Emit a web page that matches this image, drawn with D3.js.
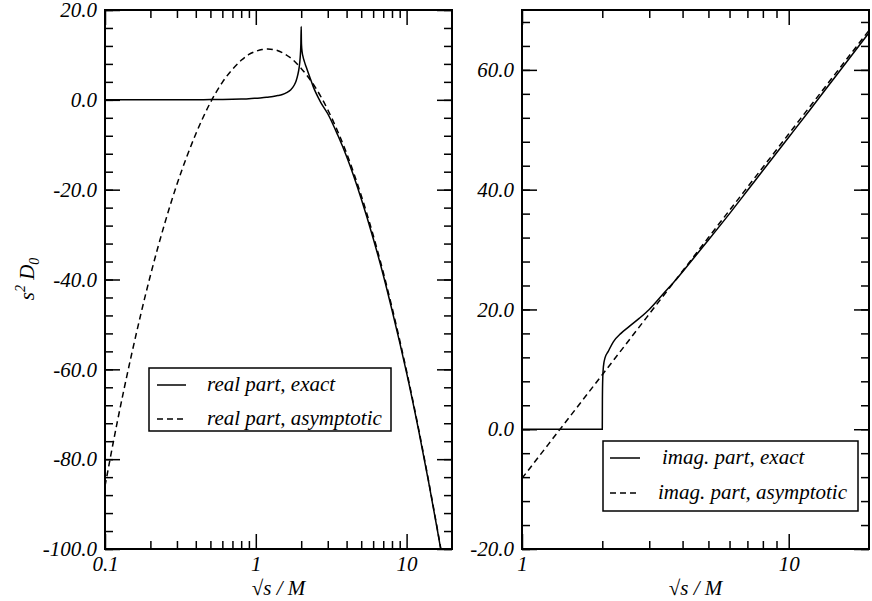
<!DOCTYPE html>
<html>
<head>
<meta charset="utf-8">
<script src="https://cdn.jsdelivr.net/npm/d3@7"></script>
<style>
  body { margin: 0; background: #fff; }
</style>
</head>
<body>
<div id="chart"></div>
<script>
// left panel: real part
const realExactX = [0.1, 0.2, 0.3, 0.4, 0.5, 0.6, 0.7, 0.8, 0.9, 1.0, 1.1, 1.2, 1.3, 1.4, 1.5, 1.6, 1.7, 1.8, 1.85, 1.9, 1.94, 1.97, 1.99, 2.0,
  2.005, 2.01, 2.03, 2.06, 2.1, 2.16, 2.23, 2.3, 2.4, 2.5, 2.7, 3.0, 3.5, 4.0, 5.0, 6.0, 7.0, 8.0, 9.0, 10, 12, 14, 16, 18];
const realExactY = [0, 0, 0, 0.02, 0.05, 0.08, 0.12, 0.18, 0.25, 0.35, 0.45, 0.6, 0.75, 0.95, 1.2, 1.6, 2.2, 3.3, 4.2, 5.6, 7.3, 9.5, 12.5, 16.3,
  13.5, 12.2, 10.6, 9.5, 8.5, 7.3, 6.0, 4.7, 3.0, 1.6, -0.6, -3.1, -7.9, -12.6, -22.0, -30.8, -39.0, -46.8, -54.0, -60.8, -73.5, -85.1, -95.8, -105.6];
const realAsymX = [0.1, 0.12, 0.15, 0.2, 0.25, 0.3, 0.35, 0.4, 0.5, 0.6, 0.7, 0.8, 0.9, 1.0, 1.1, 1.2, 1.35, 1.5, 1.75, 2.0,
  2.5, 3.0, 3.5, 4.0, 5.0, 6.0, 7.0, 8.0, 9.0, 10, 12, 14, 16, 18];
const realAsymY = [-86.0, -72.1, -56.7, -39.1, -27.3, -18.8, -12.5, -7.6, -0.6, 3.9, 6.8, 8.8, 10.1, 10.8, 11.2, 11.3, 11.1, 10.5, 9.0, 7.0,
  2.6, -2.2, -7.1, -11.9, -21.3, -30.1, -38.4, -46.2, -53.5, -60.4, -73.2, -84.9, -95.6, -105.4];

// right panel: imaginary part
const imagExactX = [1.0, 1.5, 1.9, 2.0, 2.002, 2.008, 2.02, 2.05, 2.1, 2.2, 2.35, 2.5, 2.75, 3.0, 3.4, 3.8, 4.5, 5, 6, 7, 8, 10, 12, 15, 20];
const imagExactY = [0, 0, 0, 0, 5.0, 8.5, 10.5, 12.0, 12.9, 14.6, 16.0, 17.0, 18.5, 20.0, 22.7, 25.1, 29.1, 31.6, 36.0, 39.85, 43.2, 48.75, 53.3, 58.95, 66.2];
const imagAsymX = [1, 2, 5, 10, 20];
const imagAsymY = [-8.2, 9.1, 32.0, 49.3, 66.6];

// ticks
const leftXMajor = [0.1, 1, 10];
const leftXMinor = [0.2, 0.3, 0.4, 0.5, 0.6, 0.7, 0.8, 0.9, 2, 3, 4, 5, 6, 7, 8, 9];
const leftYMajor = [-100, -80, -60, -40, -20, 0, 20];
const rightXMajor = [1, 10];
const rightXMinor = [2, 3, 4, 5, 6, 7, 8, 9];
const rightYMajor = [-20, 0, 20, 40, 60];

const legendLeft = ["real part, exact", "real part, asymptotic"];
const legendRight = ["imag. part, exact", "imag. part, asymptotic"];

const width = 872;
const height = 601;
const fontSize = 21;
const serif = '"Liberation Serif", "Times New Roman", Times, "DejaVu Serif", serif';

const svg = d3.select("#chart").append("svg").attr("width", width).attr("height", height);

const xLeft = d3.scaleLog().domain([0.1, 20]).range([105, 452]);
const yLeft = d3.scaleLinear().domain([-100, 20]).range([549, 10]);
const xRight = d3.scaleLog().domain([1, 20]).range([522, 869]);
const yRight = d3.scaleLinear().domain([-20, 70]).range([549, 10]);

function minorRange(lo, hi, step) {
  return d3.range(lo, hi + 1e-9, step);
}

function styleText(sel, size) {
  return sel.style("font-family", serif).style("font-style", "italic")
    .style("font-size", (size || fontSize) + "px").attr("fill", "#000");
}

function drawPanel(id, x, y, xMajor, xMinor, yMajor, yMinor, xFmt) {
  const g = svg.append("g").attr("id", id);
  const [x0, x1] = x.range();
  const [y0, y1] = y.range();

  const axes = [
    { axis: d3.axisBottom, scale: x, pos: `translate(0,${y0})`, major: xMajor, minor: xMinor, fmt: xFmt, pad: 7 },
    { axis: d3.axisTop, scale: x, pos: `translate(0,${y1})`, major: xMajor, minor: xMinor, fmt: null },
    { axis: d3.axisLeft, scale: y, pos: `translate(${x0},0)`, major: yMajor, minor: yMinor, fmt: (d) => d.toFixed(1), pad: 8 },
    { axis: d3.axisRight, scale: y, pos: `translate(${x1},0)`, major: yMajor, minor: yMinor, fmt: null },
  ];

  axes.forEach((a) => {
    const minorAxis = a.axis(a.scale).tickValues(a.minor).tickSizeInner(-8).tickSizeOuter(0).tickFormat("");
    const majorAxis = a.axis(a.scale).tickValues(a.major).tickSizeInner(-15).tickSizeOuter(0)
      .tickPadding(a.pad || 3).tickFormat(a.fmt || "");
    [minorAxis, majorAxis].forEach((ax) => {
      const ag = g.append("g").attr("transform", a.pos).call(ax);
      ag.attr("font-family", null).attr("font-size", null);
      ag.select(".domain").remove();
      ag.selectAll(".tick line").attr("stroke", "#000").attr("stroke-width", 1.5);
      styleText(ag.selectAll(".tick text"));
    });
  });

  svg.append("clipPath").attr("id", id + "-clip")
    .append("rect").attr("x", x0).attr("y", y1).attr("width", x1 - x0).attr("height", y0 - y1);

  g.append("rect")
    .attr("x", x0).attr("y", y1).attr("width", x1 - x0).attr("height", y0 - y1)
    .attr("fill", "none").attr("stroke", "#000").attr("stroke-width", 2);

  // x title
  const t = styleText(g.append("text")).attr("x", (x0 + x1) / 2).attr("y", 595).attr("text-anchor", "middle");
  t.append("tspan").style("font-style", "normal").text("√");
  t.append("tspan").text("s / M");

  return g;
}

function drawLine(g, id, x, y, xs, ys, dashed) {
  const line = d3.line().x((d) => x(d[0])).y((d) => y(d[1])).curve(d3.curveMonotoneX);
  g.append("path")
    .datum(d3.zip(xs, ys))
    .attr("clip-path", `url(#${id}-clip)`)
    .attr("d", line)
    .attr("fill", "none")
    .attr("stroke", "#000")
    .attr("stroke-width", 1.5)
    .attr("stroke-dasharray", dashed ? "6,4" : null);
}

function drawLegend(g, bx, by, bw, bh, rows, lineX0, lineX1, textX, rowY) {
  g.append("rect").attr("x", bx).attr("y", by).attr("width", bw).attr("height", bh)
    .attr("fill", "#fff").attr("stroke", "#000").attr("stroke-width", 1.5);
  rows.forEach((label, i) => {
    const yy = rowY[i];
    g.append("line").attr("x1", lineX0).attr("x2", lineX1).attr("y1", yy).attr("y2", yy)
      .attr("stroke", "#000").attr("stroke-width", 1.5)
      .attr("stroke-dasharray", i === 1 ? "6,4" : null);
    styleText(g.append("text")).attr("x", textX[i]).attr("y", yy + 6).text(label);
  });
}

// left panel
const gl = drawPanel("left", xLeft, yLeft, leftXMajor, leftXMinor, leftYMajor, minorRange(-100, 20, 4), (d) => String(d));
drawLine(gl, "left", xLeft, yLeft, realAsymX, realAsymY, true);
drawLine(gl, "left", xLeft, yLeft, realExactX, realExactY, false);
drawLegend(gl, 149, 368, 242, 63, legendLeft, 157, 186, [207, 207], [385, 419]);

// y title
const yt = styleText(gl.append("text")).attr("transform", "translate(34,279) rotate(-90)").attr("text-anchor", "middle");
yt.append("tspan").text("s");
yt.append("tspan").attr("dy", -9).style("font-size", "14px").text("2");
yt.append("tspan").attr("dy", 9).text(" D");
yt.append("tspan").attr("dy", 5).style("font-size", "14px").text("0");

// right panel
const gr = drawPanel("right", xRight, yRight, rightXMajor, rightXMinor, rightYMajor, minorRange(-20, 70, 4), (d) => String(d));
drawLine(gr, "right", xRight, yRight, imagAsymX, imagAsymY, true);
drawLine(gr, "right", xRight, yRight, imagExactX, imagExactY, false);
drawLegend(gr, 603, 441, 255, 70, legendRight, 610, 640, [662, 658], [458, 493]);
</script>
</body>
</html>
